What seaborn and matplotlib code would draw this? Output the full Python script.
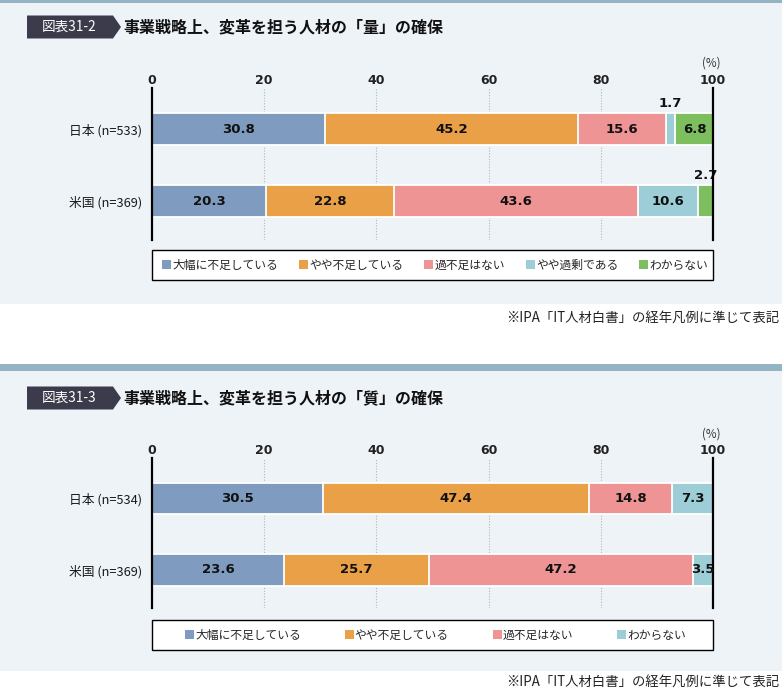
import matplotlib
matplotlib.use("Agg")
import matplotlib.pyplot as plt
import matplotlib.patches as mpatches
import seaborn as sns
import numpy as np
import pandas as pd

sns.set_theme(style="white")
plt.rcParams['font.family'] = ['Noto Sans CJK JP', 'DejaVu Sans']

# ---------------- data ----------------
countries1 = ["日本 (n=533)", "米国 (n=369)"]
cats1 = ["大幅に不足している", "やや不足している", "過不足はない", "やや過剰である", "わからない"]
japan1 = [30.8, 45.2, 15.6, 1.7, 6.8]
us1 = [20.3, 22.8, 43.6, 10.6, 2.7]
title1 = "事業戦略上、変革を担う人材の「量」の確保"
badge1 = "図表31-2"

countries2 = ["日本 (n=534)", "米国 (n=369)"]
cats2 = ["大幅に不足している", "やや不足している", "過不足はない", "わからない"]
japan2 = [30.5, 47.4, 14.8, 7.3]
us2 = [23.6, 25.7, 47.2, 3.5]
title2 = "事業戦略上、変革を担う人材の「質」の確保"
badge2 = "図表31-3"

xticks = [0, 20, 40, 60, 80, 100]
note = "※IPA「IT人材白書」の経年凡例に準じて表記"

BLUE = "#7f9bbf"
ORANGE = "#eaa047"
PINK = "#ef9494"
LBLUE = "#9dcdd6"
GREEN = "#7dbf5f"
colors1 = [BLUE, ORANGE, PINK, LBLUE, GREEN]
colors2 = [BLUE, ORANGE, PINK, LBLUE]

W, H = 782, 693
fig = plt.figure(figsize=(W / 100, H / 100), dpi=100)
fig.patch.set_facecolor("white")

NUMFONT = dict(family=["DejaVu Sans", "Noto Sans CJK JP"], fontweight="bold")


def fx(px):
    return px / W


def fy(py):
    return 1 - py / H


BG = "#eef3f8"
BAR = "#94b4c6"


def panel_bg(top_bar_y0, top_bar_y1, bg_bottom):
    fig.add_artist(mpatches.Rectangle((0, fy(bg_bottom)), 1, fy(top_bar_y1) - fy(bg_bottom),
                                      transform=fig.transFigure, facecolor=BG, edgecolor="none", zorder=-10))
    fig.add_artist(mpatches.Rectangle((0, fy(top_bar_y1)), 1, fy(top_bar_y0) - fy(top_bar_y1),
                                      transform=fig.transFigure, facecolor=BAR, edgecolor="none", zorder=-9))


def header(yc, badge, title):
    pts = [(27, yc - 11.5), (113, yc - 11.5), (121, yc), (113, yc + 11.5), (27, yc + 11.5)]
    poly = mpatches.Polygon([(fx(a), fy(b)) for a, b in pts], closed=True,
                            transform=fig.transFigure, facecolor="#3b3b4c", edgecolor="none")
    fig.add_artist(poly)
    fig.text(fx(69), fy(yc), badge, color="white", fontsize=9.8, ha="center", va="center")
    fig.text(fx(123), fy(yc), title, color="#111111", fontsize=11.5, ha="left", va="center", fontweight="bold")


def chart(ax_top, ax_bot, countries, cats, rows, colors, small_above, legend_top, leg_x0, leg_x1):
    ax = fig.add_axes([fx(152), fy(ax_bot), fx(713) - fx(152), fy(ax_top) - fy(ax_bot)])
    ax.patch.set_visible(False)
    vals = np.array(rows)
    cum = np.cumsum(vals, axis=1)
    for i in reversed(range(len(cats))):
        df = pd.DataFrame({"country": countries, "value": cum[:, i]})
        sns.barplot(data=df, x="value", y="country", orient="h", color=colors[i], width=0.44,
                    edgecolor="white", linewidth=1.3, saturation=1, ax=ax, zorder=2)
    for xv in xticks[1:-1]:
        ax.axvline(xv, color="#b5b5b5", linestyle=(0, (1, 1.5)), linewidth=0.8, zorder=0)
    ax.set_xlim(0, 100)
    ax.set_ylim(1.535, -0.57)
    ax.set_xlabel("")
    ax.set_ylabel("")
    ax.xaxis.tick_top()
    ax.set_xticks(xticks)
    ax.set_xticklabels([str(t) for t in xticks], fontsize=9, color="#222222", **NUMFONT)
    ax.tick_params(axis="x", length=0, pad=0.5)
    ax.tick_params(axis="y", length=0, pad=7)
    for lab in ax.get_yticklabels():
        lab.set_fontsize(9.2)
        lab.set_color("#1a1a1a")
    for s in ["top", "bottom"]:
        ax.spines[s].set_visible(False)
    for s in ["left", "right"]:
        ax.spines[s].set_visible(True)
        ax.spines[s].set_color("black")
        ax.spines[s].set_linewidth(1.6)
        ax.spines[s].set_zorder(5)
    # value labels
    for r in range(len(countries)):
        left = 0
        for i, v in enumerate(vals[r]):
            c = left + v / 2
            if (r, i) in small_above:
                ax.text(c, r - 0.27, f"{v:.1f}", ha="center", va="bottom", fontsize=9.5,
                        color="#111111", **NUMFONT)
            else:
                ax.text(c, r, f"{v:.1f}", ha="center", va="center", fontsize=9.5,
                        color="#111111", zorder=6, **NUMFONT)
            left += v
    ax.text(99.7, -0.57 - 0.25, "(%)", ha="center", va="bottom", fontsize=8.3, color="#333333")
    # legend frame
    fig.add_artist(mpatches.Rectangle((fx(152), fy(legend_top + 30)), fx(713) - fx(152), 30 / H,
                                      transform=fig.transFigure, facecolor="white", edgecolor="black",
                                      linewidth=1.0, zorder=1))
    handles = [mpatches.Patch(facecolor=col, edgecolor="none", label=lab) for col, lab in zip(colors, cats)]
    leg = fig.legend(handles=handles, loc="center left", ncol=len(cats), mode="expand",
                     bbox_to_anchor=(fx(leg_x0), fy(legend_top + 15), fx(leg_x1) - fx(leg_x0), 0),
                     bbox_transform=fig.transFigure, fontsize=8.5, frameon=False,
                     handlelength=0.75, handleheight=0.75, handletextpad=0.1, borderpad=0,
                     columnspacing=1.0, borderaxespad=0)
    leg.set_zorder(3)
    return ax


panel_bg(0, 3, 304)
panel_bg(364, 371, 671)
header(27, badge1, title1)
header(398, badge2, title2)

chart(88, 240, countries1, cats1, [japan1, us1], colors1, {(0, 3), (1, 4)}, 250, 162, 708)
chart(458, 608, countries2, cats2, [japan2, us2], colors2, set(), 620, 185, 686)

fig.text(fx(779), fy(319), note, ha="right", va="center", fontsize=9.6, color="#222222")
fig.text(fx(779), fy(683), note, ha="right", va="center", fontsize=9.6, color="#222222")

fig.savefig("out.png", dpi=100)
